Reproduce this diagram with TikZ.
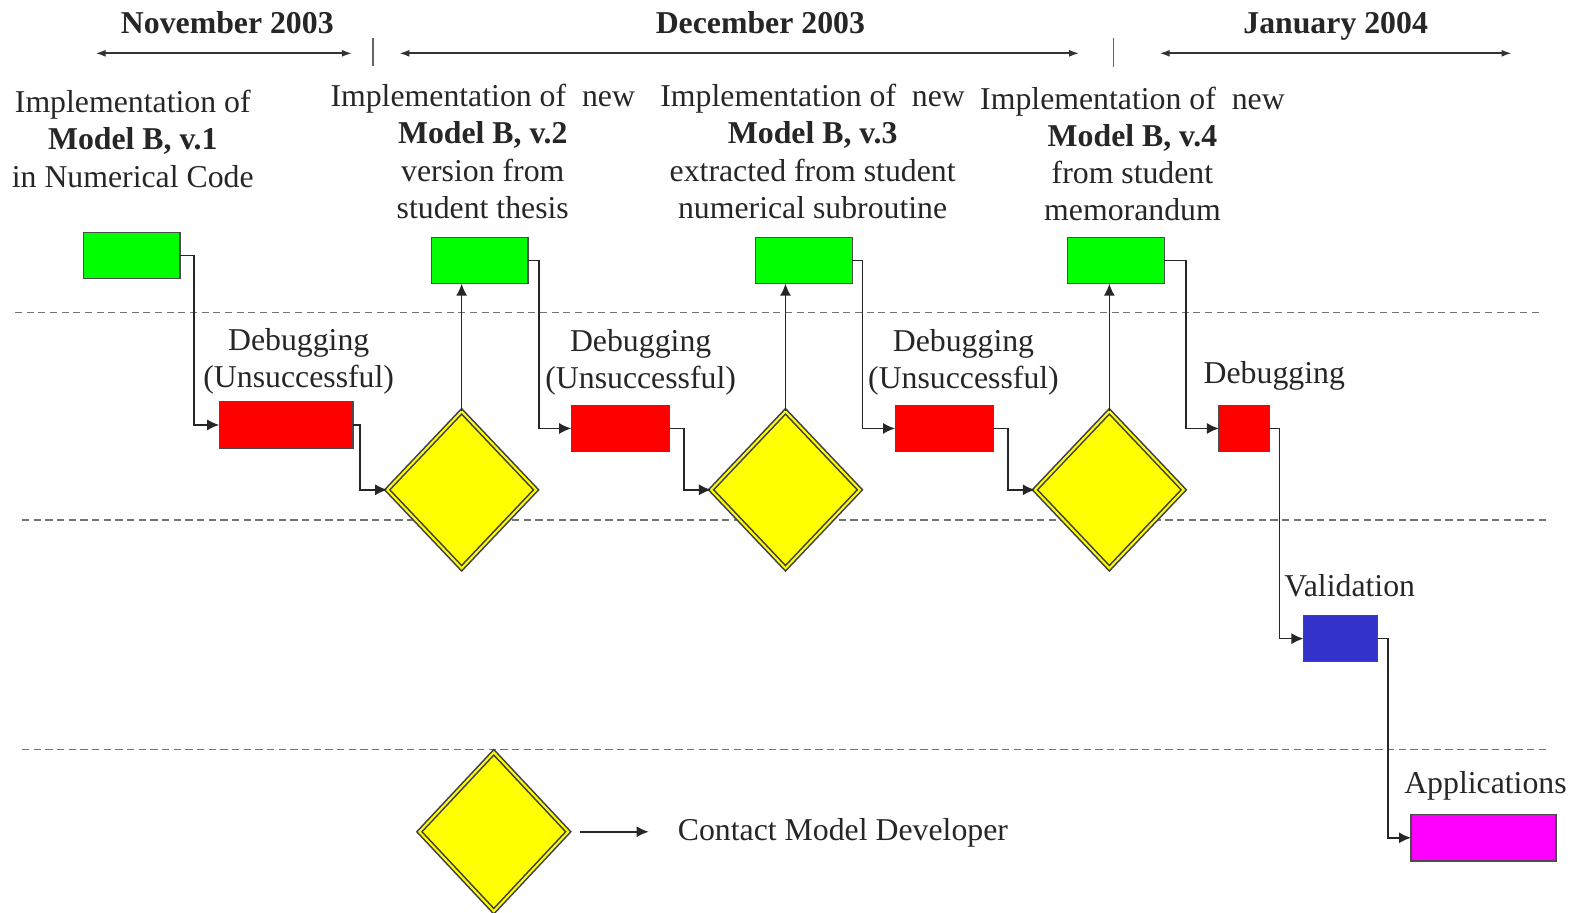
\documentclass[tikz,border=0pt]{standalone}
\usepackage{fontspec}
\setmainfont{Liberation Serif}
\usetikzlibrary{arrows.meta,shapes.geometric}
\definecolor{cgreen}{RGB}{0,255,0}
\definecolor{cred}{RGB}{255,0,0}
\definecolor{cyellow}{RGB}{255,255,0}
\definecolor{cblue}{RGB}{51,51,204}
\definecolor{cmag}{RGB}{255,0,255}
\begin{document}
\begin{tikzpicture}[x=0.5pt,y=-0.5pt,
  every node/.style={font=\fontsize{15.8}{18.5}\selectfont, text=black!85, inner sep=0pt, outer sep=0pt},
  box/.style={draw=black!70, line width=0.6pt, minimum height=23pt},
  gbox/.style={box, fill=cgreen, minimum width=48pt},
  rbox/.style={box, fill=cred},
  dia/.style={diamond, draw=black!75, line width=0.8pt, double=cyellow, double distance=1pt, fill=cyellow, minimum width=74pt, minimum height=78pt},
  conn/.style={draw=black!85, line width=0.8pt, -{Latex[length=6pt,width=5.5pt]}},
  tline/.style={draw=black!80, line width=0.9pt, {Latex[length=5pt,width=3.5pt]}-{Latex[length=5pt,width=3.5pt]}},
  tick/.style={draw=black!60, line width=0.7pt},
  sep/.style={draw=black!55, line width=0.6pt, dash pattern=on 3.5pt off 2.3pt},
  title/.style={font=\fontsize{15.8}{18.5}\selectfont\bfseries, anchor=base}
]
\useasboundingbox (0,0) rectangle (1568,907);

% titles and timeline
\node[title] (nov) at (226,33) {November 2003};
\node[title] (dec) at (756,33) {December 2003};
\node[title] (jan) at (1328,33) {January 2004};
\coordinate (na) at (95,53); \coordinate (nb) at (350,53);
\coordinate (da) at (397,53); \coordinate (db) at (1073,53);
\coordinate (ja) at (1153,53); \coordinate (jb) at (1503,53);
\draw[tline] (na) -- (nb);
\draw[tline] (da) -- (db);
\draw[tline] (ja) -- (jb);
\coordinate (k1a) at (371,38); \coordinate (k1b) at (371,66);
\coordinate (k2a) at (1107,38); \coordinate (k2b) at (1107,67);
\draw[tick] (k1a) -- (k1b);
\draw[tick] (k2a) -- (k2b);

% separators
\draw[sep] (15,311) -- (1533,311);
\draw[sep] (22,517) -- (1540,517);
\draw[sep] (22,745) -- (1540,745);

% descriptions
\node[align=center] (t1) at (132,138) {Implementation of\\\textbf{Model B, v.1}\\in Numerical Code};
\node[align=center] (t2) at (480,150.5) {Implementation of~ new\\\textbf{Model B, v.2}\\version from\\student thesis};
\node[align=center] (t3) at (808,150.5) {Implementation of~ new\\\textbf{Model B, v.3}\\extracted from student\\numerical subroutine};
\node[align=center] (t4) at (1126,153) {Implementation of~ new\\\textbf{Model B, v.4}\\from student\\memorandum};

\node[align=center] (l1) at (297,359.5) {Debugging\\(Unsuccessful)};
\node[align=center] (l2) at (637,360.5) {Debugging\\(Unsuccessful)};
\node[align=center] (l3) at (958,360.5) {Debugging\\(Unsuccessful)};
\node (l4) at (1267,374) {Debugging};
\node (lv) at (1342,582) {Validation};
\node (la) at (1477,781) {Applications};

% boxes
\node[gbox] (g1) at (131,254) {};
\node[gbox] (g2) at (477,259) {};
\node[gbox] (g3) at (799.5,259) {};
\node[gbox] (g4) at (1109.5,259) {};
\node[rbox, minimum width=66.5pt] (r1) at (284.5,422.5) {};
\node[rbox, minimum width=49pt] (r2) at (617,426) {};
\node[rbox, minimum width=49pt] (r3) at (939,426) {};
\node[rbox, minimum width=25pt] (r4) at (1237,426) {};
\node[box, fill=cblue, minimum width=37pt] (bl) at (1333,635) {};
\node[box, fill=cmag, minimum width=72pt] (mg) at (1475,833) {};

% diamonds
\node[dia] (d1) at (459,487) {};
\node[dia] (d2) at (781,487) {};
\node[dia] (d3) at (1103,487) {};
\node[dia, minimum height=79pt] (ld) at (491,827) {};
\node[anchor=west] (contact) at (674,828) {Contact Model Developer};

% connectors
\draw[conn] (g1.east) -- ++(14,0) |- (r1.west);
\draw[conn] (r1.east) -- ++(7,0) |- (d1.west);
\draw[conn] (d1.north) -- (d1.north |- g2.south);
\draw[conn] (g2.east) -- ++(11,0) |- (r2.west);
\draw[conn] (r2.east) -- ++(14,0) |- (d2.west);
\draw[conn] (d2.north) -- (d2.north |- g3.south);
\draw[conn] (g3.east) -- ++(10,0) |- (r3.west);
\draw[conn] (r3.east) -- ++(14,0) |- (d3.west);
\draw[conn] (d3.north) -- (d3.north |- g4.south);
\draw[conn] (g4.east) -- ++(22,0) |- (r4.west);
\draw[conn] (r4.east) -- ++(10,0) |- (bl.west);
\draw[conn] (bl.east) -- ++(10,0) |- (mg.west);
\draw[conn, shorten <=6pt, shorten >=14.5pt] (ld.east) -- (ld.east -| contact.west);
\end{tikzpicture}
\end{document}
